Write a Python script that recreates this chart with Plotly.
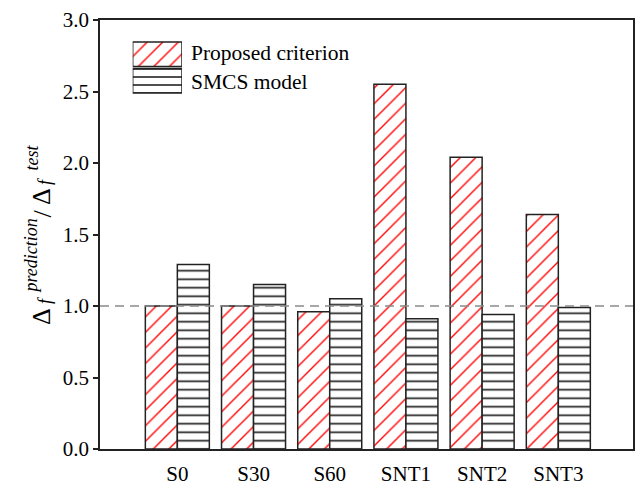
import plotly.graph_objects as go

# Ratio of predicted to measured fracture displacement for each specimen
categories = ["S0", "S30", "S60", "SNT1", "SNT2", "SNT3"]
proposed = [1.00, 1.00, 0.96, 2.55, 2.04, 1.64]
smcs = [1.29, 1.15, 1.05, 0.91, 0.94, 0.99]
series_names = ["Proposed criterion", "SMCS model"]
y_ticks = [0.0, 0.5, 1.0, 1.5, 2.0, 2.5, 3.0]

W, H = 635, 486
ML, MR, MT, MB = 100, 2, 20, 37
PW, PH = W - ML - MR, H - MT - MB

SERIF = "Liberation Serif, Times New Roman, serif"
EDGE = "#222222"
RED = "#ff0a0a"

HATCH = dict(shape="/", fgcolor=RED, bgcolor="white", size=11,
             solidity=0.13, fgopacity=1, fillmode="overlay")
LINES = dict(shape="-", fgcolor=EDGE, bgcolor="white", size=8.5,
             solidity=0.2, fgopacity=1, fillmode="overlay")


def px_x(x):
    return (x - ML) / PW


def px_y(y):
    return (H - MB - y) / PH


fig = go.Figure()

fig.add_trace(go.Bar(
    x=categories, y=proposed, name=series_names[0], showlegend=False,
    marker=dict(color="white", line=dict(color=EDGE, width=1.5), pattern=HATCH),
))
fig.add_trace(go.Bar(
    x=categories, y=smcs, name=series_names[1], showlegend=False,
    marker=dict(color="white", line=dict(color=EDGE, width=1.5), pattern=LINES),
))

# Legend keys drawn as patterned bars on a small inset axis
fig.add_trace(go.Bar(
    x=[1, 1], y=[1, 0], orientation="h", width=0.92,
    xaxis="x2", yaxis="y2", showlegend=False, hoverinfo="skip",
    marker=dict(color="white",
                line=dict(color=EDGE, width=1.5),
                pattern=dict(shape=["/", "-"], fgcolor=[RED, EDGE],
                             bgcolor="white", size=[11, 8], solidity=[0.13, 0.2],
                             fgopacity=1, fillmode="overlay")),
))

axis_common = dict(showline=True, linecolor=EDGE, linewidth=1.5, mirror=True,
                   showgrid=False, zeroline=False, automargin=False,
                   tickfont=dict(family=SERIF, size=21, color="black"))

fig.update_layout(
    width=W, height=H,
    margin=dict(l=ML, r=MR, t=MT, b=MB, pad=0, autoexpand=False),
    paper_bgcolor="white", plot_bgcolor="white",
    barmode="group", bargap=0.16, bargroupgap=0,
    xaxis=dict(**axis_common, range=[-1.015, 5.98], ticks="outside",
               ticklen=5, tickcolor="rgba(0,0,0,0)"),
    yaxis=dict(**axis_common, range=[0, 3.0], tickvals=y_ticks,
               tickformat=".1f", ticks="outside", ticklen=5, tickwidth=1.5,
               tickcolor=EDGE),
    xaxis2=dict(domain=[px_x(132.7), px_x(182)], range=[0, 1], visible=False,
                anchor="y2", fixedrange=True),
    yaxis2=dict(domain=[px_y(94), px_y(41)], range=[-0.5, 1.5], visible=False,
                anchor="x2", fixedrange=True),
    showlegend=False,
)

# Reference line at ratio = 1
fig.add_shape(type="line", xref="paper", x0=0, x1=1, yref="y", y0=1, y1=1,
              line=dict(color="#8a8a8a", width=1.5, dash="9px,6px"),
              layer="above")

# Legend labels
for name, yc in zip(series_names, [53, 82]):
    fig.add_annotation(text=name, xref="paper", yref="paper",
                       x=px_x(189), y=px_y(yc), xanchor="left", yanchor="middle",
                       showarrow=False,
                       font=dict(family=SERIF, size=21.5, color="black"))

# Y-axis title assembled from pieces so sub- and superscripts stack
title_parts = [
    ("Δ", 41.5, 316.5, 26, False),
    ("f", 45, 300, 18, True),
    ("prediction", 30.5, 256, 18, True),
    ("/", 41.5, 214, 26, False),
    ("Δ", 41.5, 196.5, 26, False),
    ("f", 45, 181, 18, True),
    ("test", 31.5, 158, 18, True),
]
for txt, cx, cy, size, ital in title_parts:
    fig.add_annotation(text=f"<i>{txt}</i>" if ital else txt,
                       xref="paper", yref="paper", x=px_x(cx), y=px_y(cy),
                       xanchor="center", yanchor="middle", textangle=-90,
                       showarrow=False,
                       font=dict(family=SERIF, size=size, color="black"))

fig.write_html("out.html")
